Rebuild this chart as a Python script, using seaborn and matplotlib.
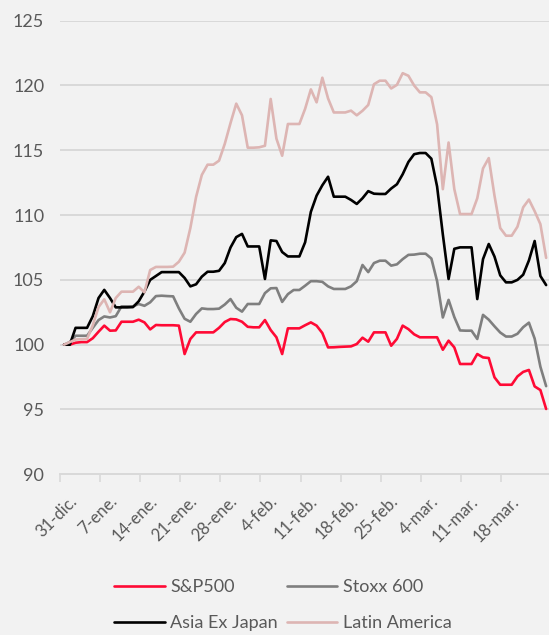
"""
Evolución de índices bursátiles (base 100 = 31-dic.)
Datos diarios naturales; fines de semana repiten el último cierre.
"""

import matplotlib
matplotlib.use("Agg")
import pandas as pd
import matplotlib.pyplot as plt
import matplotlib.transforms as mtransforms
import seaborn as sns

# ============== DATA ==============
DAYS = list(range(85))  # 0 = 31-dic.

TICK_DAYS = [0, 7, 14, 21, 28, 35, 42, 49, 56, 63, 70, 77]
TICK_LABELS = ["31-dic.", "7-ene.", "14-ene.", "21-ene.", "28-ene.", "4-feb.",
               "11-feb.", "18-feb.", "25-feb.", "4-mar.", "11-mar.", "18-mar."]

SP500 = [100.0, 100.0, 100.15, 100.2, 100.2, 100.5, 101.0, 101.47, 101.08, 101.1,
         101.77, 101.77, 101.77, 101.93, 101.72, 101.18, 101.52, 101.5, 101.5, 101.5,
         101.47, 99.28, 100.44, 100.95, 100.95, 100.95, 100.95, 101.3, 101.75, 101.98,
         101.95, 101.77, 101.38, 101.34, 101.34, 101.9, 101.13, 100.57, 99.28, 101.26,
         101.26, 101.26, 101.5, 101.72, 101.47, 100.9, 99.79, 99.8, 99.83, 99.85,
         99.87, 100.05, 100.54, 100.23, 100.95, 100.95, 100.95, 99.92, 100.45, 101.47,
         101.2, 100.8, 100.57, 100.57, 100.57, 100.57, 99.61, 100.31, 99.79, 98.51,
         98.51, 98.51, 99.28, 99.02, 98.97, 97.48, 96.91, 96.91, 96.91, 97.55,
         97.9, 98.05, 96.78, 96.5, 95.04]

STOXX600 = [100.0, 100.2, 100.69, 100.69, 100.69, 101.3, 101.9, 102.18, 102.1, 102.2,
            102.96, 102.96, 102.96, 103.14, 103.0, 103.27, 103.75, 103.78, 103.75, 103.73,
            102.8, 102.0, 101.77, 102.37, 102.8, 102.75, 102.75, 102.78, 103.1, 103.52,
            102.85, 102.55, 103.14, 103.14, 103.14, 103.98, 104.35, 104.37, 103.3, 103.9,
            104.22, 104.22, 104.55, 104.9, 104.9, 104.85, 104.5, 104.3, 104.3, 104.3,
            104.5, 104.9, 106.15, 105.6, 106.3, 106.48, 106.48, 106.1, 106.2, 106.6,
            106.93, 106.95, 107.02, 107.02, 106.65, 104.9, 102.1, 103.46, 102.13, 101.1,
            101.08, 101.08, 100.44, 102.3, 101.93, 101.42, 100.94, 100.63, 100.63, 100.84,
            101.35, 101.7, 100.47, 98.3, 96.8]

ASIA_EX_JAPAN = [100.0, 100.0, 101.3, 101.3, 101.3, 102.2, 103.6, 104.23, 103.6, 102.88,
                 102.88, 102.88, 102.9, 103.35, 104.1, 105.0, 105.3, 105.6, 105.6, 105.6,
                 105.6, 105.15, 104.5, 104.66, 105.25, 105.63, 105.63, 105.7, 106.3, 107.5,
                 108.3, 108.55, 107.58, 107.58, 107.58, 105.07, 108.05, 108.0, 107.15, 106.81,
                 106.81, 106.81, 107.9, 110.25, 111.5, 112.3, 112.96, 111.42, 111.42, 111.42,
                 111.17, 110.86, 111.3, 111.85, 111.65, 111.63, 111.63, 112.05, 112.38, 113.15,
                 114.1, 114.7, 114.79, 114.79, 114.35, 112.2, 108.5, 105.07, 107.4, 107.51,
                 107.51, 107.51, 103.52, 106.6, 107.77, 106.8, 105.35, 104.81, 104.81, 105.0,
                 105.4, 106.5, 108.0, 105.3, 104.6]

LATAM = [100.0, 100.2, 100.4, 100.42, 100.44, 101.5, 102.9, 103.5, 102.5, 103.6,
         104.09, 104.09, 104.09, 104.47, 104.04, 105.76, 106.0, 106.0, 106.0, 106.02,
         106.4, 107.1, 109.0, 111.4, 113.1, 113.89, 113.89, 114.2, 115.5, 117.1,
         118.6, 117.7, 115.2, 115.2, 115.23, 115.35, 118.96, 115.9, 114.58, 117.03,
         117.03, 117.03, 118.2, 119.7, 118.7, 120.6, 119.0, 117.92, 117.92, 117.92,
         118.06, 117.7, 118.05, 118.5, 120.1, 120.37, 120.37, 119.77, 120.05, 120.95,
         120.75, 120.0, 119.47, 119.47, 119.1, 117.0, 112.0, 115.6, 112.0, 110.08,
         110.08, 110.08, 111.3, 113.6, 114.4, 111.5, 109.0, 108.41, 108.41, 109.1,
         110.6, 111.2, 110.3, 109.3, 106.7]

SERIES = ["S&P500", "Stoxx 600", "Asia Ex Japan", "Latin America"]
COLORS = ["#ff0a35", "#7f7f7f", "#000000", "#ddb5b3"]
# ==================================

TEXT = "#595959"
GRID = "#d9d9d9"
BG = "#f2f2f2"


def build_frame():
    values = [SP500, STOXX600, ASIA_EX_JAPAN, LATAM]
    frames = [pd.DataFrame({"day": DAYS, "value": v, "serie": name})
              for name, v in zip(SERIES, values)]
    return pd.concat(frames, ignore_index=True)


def main():
    sns.set_theme(style="white")
    plt.rcParams["font.family"] = ["Lato", "DejaVu Sans"]

    df = build_frame()

    fig = plt.figure(figsize=(5.49, 6.35), dpi=100, facecolor=BG)
    ax = fig.add_axes([0.1084, 0.2531, 0.8916, 0.7143])
    ax.set_facecolor(BG)

    sns.lineplot(data=df, x="day", y="value", hue="serie", hue_order=SERIES,
                 palette=COLORS, linewidth=1.9, ax=ax, legend=True)

    ax.set_xlim(-0.8, 84.5)
    ax.set_ylim(90, 125)
    ax.set_yticks(range(90, 126, 5))
    ax.yaxis.grid(True, color=GRID, linewidth=1.4)
    ax.set_axisbelow(True)
    for side in ["top", "right", "left"]:
        ax.spines[side].set_visible(False)
    ax.spines["bottom"].set_color(GRID)
    ax.spines["bottom"].set_linewidth(1.4)

    ax.set_xticks([d - 0.8 for d in TICK_DAYS])
    ax.set_xticklabels(TICK_LABELS, rotation=45, ha="right", rotation_mode="anchor")
    ax.tick_params(axis="x", length=6, width=1.2, color=GRID, labelcolor=TEXT,
                   labelsize=12, pad=4, bottom=True)
    ax.tick_params(axis="y", length=0, labelcolor=TEXT, labelsize=13, pad=11)
    ax.set_xlabel("")
    ax.set_ylabel("")

    # etiquetas del eje x algo desplazadas a la derecha y abajo, como en el original
    shift = mtransforms.ScaledTranslation(9 / 100, -5 / 100, fig.dpi_scale_trans)
    for lbl in ax.get_xticklabels():
        lbl.set_transform(lbl.get_transform() + shift)

    # leyenda en dos columnas, filas: S&P500/Stoxx 600 y Asia/Latin America
    handles, labels = ax.get_legend_handles_labels()
    order = [0, 2, 1, 3]
    ax.legend([handles[i] for i in order], [labels[i] for i in order],
              loc="center", bbox_to_anchor=(0.515, 0.047),
              bbox_transform=fig.transFigure, ncol=2, frameon=False,
              fontsize=13, labelcolor=TEXT, handlelength=2.8, handletextpad=0.3,
              columnspacing=0.5, labelspacing=1.1)

    fig.savefig("out.png", dpi=100, facecolor=BG)
    plt.close(fig)


if __name__ == "__main__":
    main()
